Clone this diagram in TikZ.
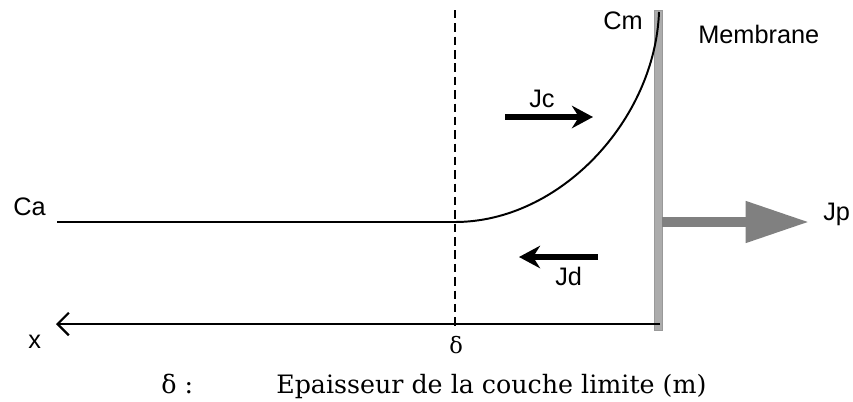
\documentclass[tikz,border=0pt]{standalone}
\usepackage{fontspec}
\newfontfamily\arialfont{Liberation Sans}
\newfontfamily\captfont{DejaVu Serif}
\usetikzlibrary{arrows.meta,positioning}
\definecolor{jpgrey}{HTML}{808080}

\begin{document}
\begin{tikzpicture}[x=0.025cm, y=-0.025cm,
  lbl/.style={font=\arialfont\fontsize{18}{20}\selectfont, inner sep=0pt, anchor=base west},
  capt/.style={font=\captfont\fontsize{18}{20}\selectfont, inner sep=0pt, anchor=base west},
  flux/.style={line width=4pt, -{Stealth[length=15pt, width=16pt, inset=5pt]}},
  perm/.style={jpgrey, line width=6.8pt, -{Triangle[length=45pt, width=28pt]}},
  profil/.style={line width=1.4pt},
  >={Stealth[]}]
\useasboundingbox (0,0) rectangle (853,401);

% points of the profile
\coordinate (ca)   at (57,222);
\coordinate (d0)   at (455,222);
\coordinate (cm)   at (659,12);
\coordinate (dtop) at (455,10);
\coordinate (dbot) at (455,326);
\coordinate (xo)   at (660,324);
\coordinate (xend) at (56,324);

% membrane
\fill[gray!65, draw=gray!80, line width=0.3pt] (654,10) rectangle (662,330);

% boundary layer limit
\draw[line width=1.1pt, dash pattern=on 6pt off 3.5pt] (dtop) -- (dbot);

% concentration profile
\draw[profil] (ca) -- (d0) .. controls (560,222) and (655,120) .. (cm);

% x axis
\draw[line width=1.6pt, -{Straight Barb[length=8pt, width=16pt, line width=1.6pt]}] (xo) -- (xend);

% fluxes
\coordinate (jcs) at (505,117);
\coordinate (jce) at (593,117);
\coordinate (jds) at (598,257);
\coordinate (jde) at (519,257);
\coordinate (jps) at (662,222);
\coordinate (jpe) at (809,222);
\draw[flux] (jcs) -- (jce);
\draw[flux] (jds) -- (jde);
\draw[perm] (jps) -- (jpe);

% labels
\node[lbl] (lca)  at (13,215)  {Ca};
\node[lbl] (lcm)  at (603,29)  {Cm};
\node[lbl] (lmem) at (698,43)  {Membrane};
\node[lbl] (ljc)  at (529,107) {Jc};
\node[lbl] (ljd)  at (555,285) {Jd};
\node[lbl] (ljp)  at (823,220) {Jp};
\node[lbl] (lx)   at (28,348)  {x};
\node[capt, font=\captfont\fontsize{16}{18}\selectfont] (ld) at (449,353) {δ};

% caption
\node[capt] (dsym) at (161,393) {δ :};
\node[capt] (lcap) at (276,393) {Epaisseur de la couche limite (m)};
\end{tikzpicture}
\end{document}
